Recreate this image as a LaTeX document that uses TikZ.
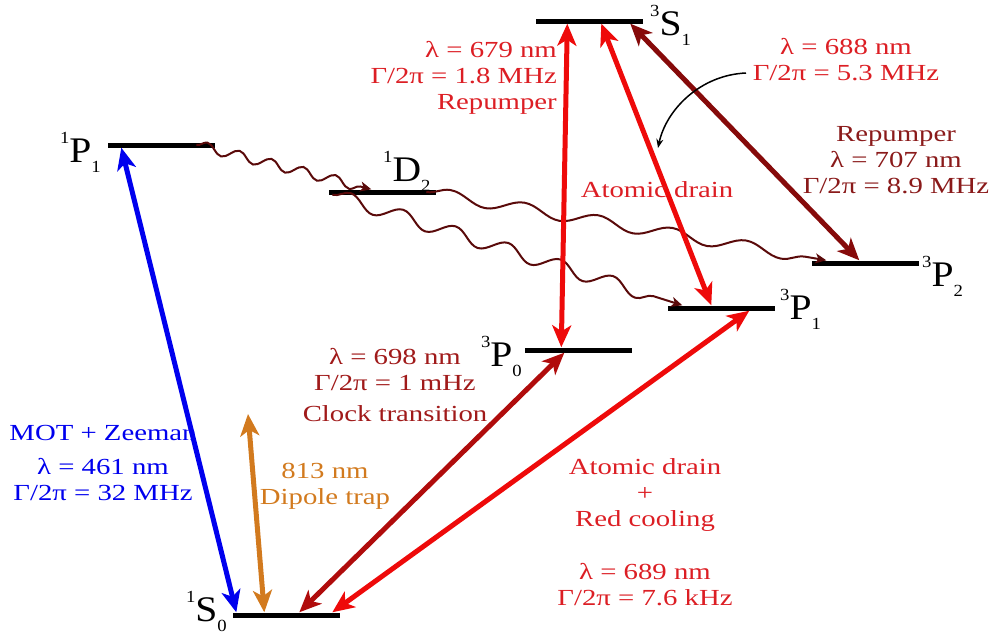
\documentclass[tikz,border=0pt]{standalone}
\usepackage{fontspec}
\setmainfont{Liberation Serif}[FakeStretch=1.25]
\newfontfamily\levelfont{Liberation Serif}[FakeStretch=1.1]
\usetikzlibrary{arrows.meta,decorations.pathmorphing,positioning}

\definecolor{srblue}{HTML}{0000EE}
\definecolor{srorange}{HTML}{D27A1E}
\definecolor{srred}{HTML}{EE0A0A}
\definecolor{srredtxt}{HTML}{DC1E24}
\definecolor{srclock}{HTML}{B00C0C}
\definecolor{srclocktxt}{HTML}{A01A1A}
\definecolor{srrep}{HTML}{860A0A}
\definecolor{srreptxt}{HTML}{8A1A1A}
\definecolor{srwave}{HTML}{5A0A0A}

% term symbol: ^{2S+1}L_J
\newcommand{\term}[3]{\raisebox{19pt}{\fontsize{17}{17}\selectfont #1}#2\raisebox{-10pt}{\fontsize{17}{17}\selectfont #3}}

\tikzset{
  level/.style={fill=black, inner sep=0pt, minimum width=107pt, minimum height=5pt},
  termlbl/.style={inner sep=0pt, font=\levelfont\fontsize{36}{36}\selectfont},
  txt/.style={inner sep=0pt, align=center, font=\fontsize{23}{26}\selectfont},
  trans/.style={{Stealth[length=22pt,width=19pt,inset=6pt]}-{Stealth[length=22pt,width=19pt,inset=6pt]}, line width=5pt},
  wavy/.style={-{Stealth[length=11pt,width=10pt,inset=3pt]}, srwave, line width=2pt, decorate},
  pointer/.style={-{Stealth[length=9pt,width=7pt]}, black, line width=1.5pt}
}

\begin{document}
\begin{tikzpicture}[x=1pt, y=-1pt]
  \useasboundingbox (0,0) rectangle (996,637);

  % ---------------------------------------------------------------- levels
  \foreach \name/\x/\y in {S0/286/615, P1s/161/145, D2/382/192, P0/578/350,
                           P1t/721/308, P2/865/263, S1/589/21}
    \node[level] (\name) at (\x,\y) {};

  \node[termlbl, anchor=base west] (lS1)  at (650,35)  {\term{3}{S}{1}};
  \node[termlbl, anchor=base east] (lP1s) at (101,162) {\term{1}{P}{1}};
  \node[termlbl, anchor=base west] (lD2)  at (383,181) {\term{1}{D}{2}};
  \node[termlbl, anchor=base west] (lP2)  at (922,286) {\term{3}{P}{2}};
  \node[termlbl, anchor=base west] (lP1t) at (780,319) {\term{3}{P}{1}};
  \node[termlbl, anchor=base east] (lP0)  at (522,366) {\term{3}{P}{0}};
  \node[termlbl, anchor=base east] (lS0)  at (227,621) {\term{1}{S}{0}};

  % ------------------------------------------------------- decay channels
  \draw[wavy, decoration={snake, amplitude=5pt, segment length=33pt, post length=10pt}]
    ([xshift=89pt]P1s.west) -- ([xshift=43pt]D2.north west);
  \draw[wavy, decoration={snake, amplitude=7pt, segment length=55pt, post length=12pt}]
    ([xshift=4pt]D2.south west) -- ([xshift=15pt]P1t.north west);
  \draw[wavy, decoration={snake, amplitude=6pt, segment length=75pt, post length=12pt}]
    ([xshift=98pt]D2.west) -- ([xshift=15pt]P2.north west);

  % ------------------------------------------------------- laser transitions
  \coordinate (trap) at (248,414);
  \draw[trans, srblue]   ([xshift=14pt]P1s.south west) -- ([xshift=4pt]S0.north west);
  \draw[trans, srorange] (trap) -- ([xshift=32pt]S0.north west);
  \draw[trans, srclock]  ([xshift=67pt]S0.north west) -- ([xshift=40pt]P0.south west);
  \draw[trans, srred]    ([xshift=100pt]S0.north west) -- ([xshift=82pt]P1t.south west);
  \draw[trans, srred]    ([xshift=37pt]P0.north west) -- ([xshift=32pt]S1.south west);
  \draw[trans, srred]    ([xshift=66pt]S1.south west) -- ([xshift=44pt]P1t.north west);
  \draw[trans, srrep]    ([xshift=95pt]S1.south west) -- ([xshift=48pt]P2.north west);

  % ------------------------------------------------------- labels
  \node[txt, srredtxt, anchor=east, align=right] (t679) at (557,78)
    {λ = 679 nm\\Γ/2π = 1.8 MHz\\Repumper};
  \node[txt, srredtxt] (t688) at (846,60) {λ = 688 nm\\Γ/2π = 5.3 MHz};
  \node[txt, srreptxt] (t707) at (896,160) {Repumper\\λ = 707 nm\\Γ/2π = 8.9 MHz};
  \node[txt, srredtxt] (tdrain) at (657,190) {Atomic drain};
  \node[txt, srclocktxt] (t698) at (395,385)
    {λ = 698 nm\\Γ/2π = 1 mHz\\[5pt]Clock transition};
  \node[txt, srblue] (tmot) at (103,463)
    {MOT + Zeeman\\[8pt]λ = 461 nm\\Γ/2π = 32 MHz};
  \node[txt, srorange] (t813) at (325,486) {813 nm\\Dipole trap};
  \node[txt, srredtxt] (t689) at (645,532)
    {Atomic drain\\+\\Red cooling\\[27pt]λ = 689 nm\\Γ/2π = 7.6 kHz};

  % the 688 nm numbers belong to the drain arrow
  \coordinate (p688) at (746,73);
  \draw[pointer] (p688) .. controls (700,75) and (666,110) .. (658,148);

\end{tikzpicture}
\end{document}
